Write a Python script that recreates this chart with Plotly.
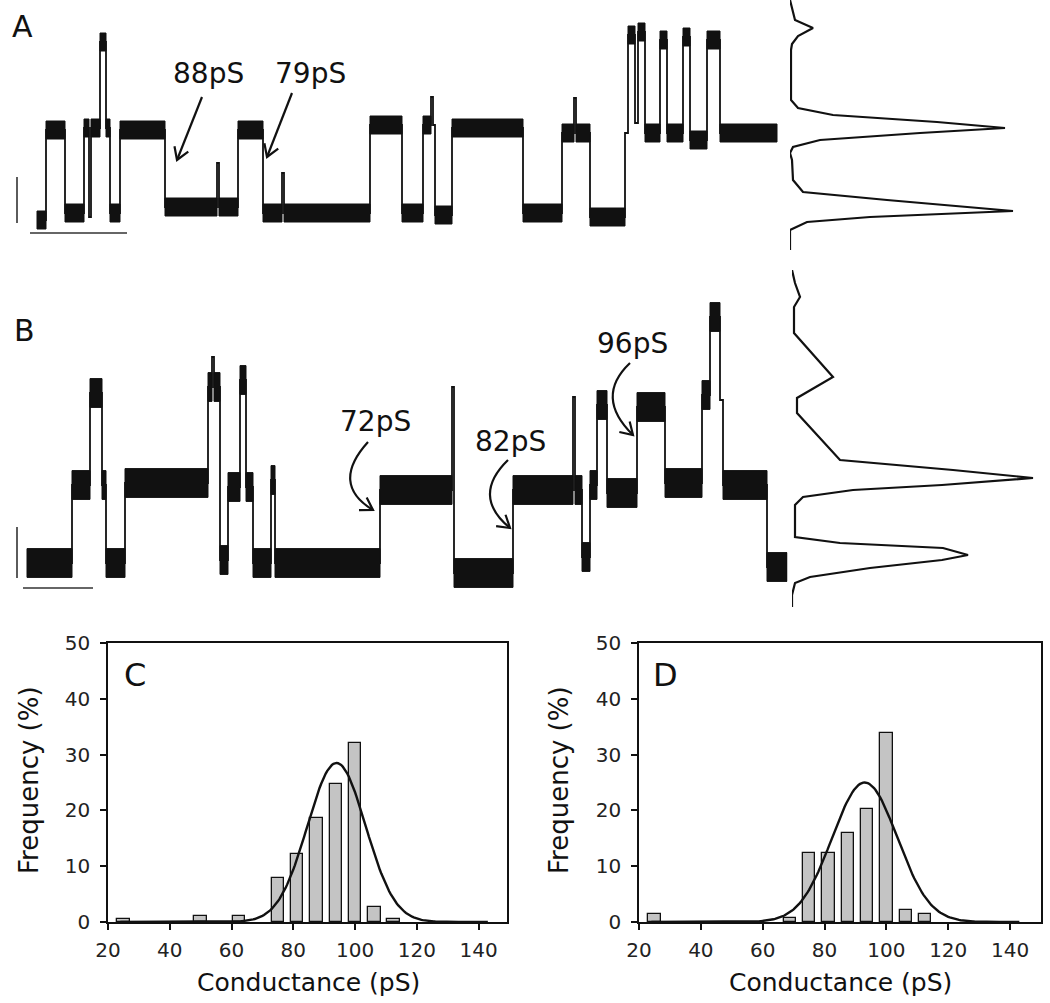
import math
import plotly.graph_objects as go

W, H = 1050, 1003
FONT = "DejaVu Sans, Arial, sans-serif"

# ---------------- Panel A : single-channel trace (step levels, pA-like units) -------------
trace_a_time = [37, 46, 65, 84, 89, 91, 100, 106, 110, 120, 165, 217, 219, 238, 263, 282, 284,
                370, 402, 423, 431, 433, 435, 452, 523, 562, 574, 576, 590, 625, 628, 635, 638,
                645, 660, 667, 683, 690, 707, 720, 777]
trace_a_level = [0.0, 4.5, 0.35, 4.6, 0.15, 4.6, 8.9, 4.6, 0.35, 4.5, 0.65, 2.85, 0.65, 4.5, 0.35,
                 2.35, 0.35, 4.75, 0.35, 4.75, 6.15, 4.75, 0.25, 4.6, 0.35, 4.35, 6.1, 4.35, 0.15,
                 4.35, 9.25, 4.85, 9.4, 4.35, 9.0, 4.35, 9.15, 4.0, 9.0, 4.35]

# amplitude histogram A (current level vs counts)
amp_a_level = [11.0, 10.0, 9.6, 9.2, 8.8, 8.5, 6.0, 5.6, 5.25, 4.9, 4.6, 4.35, 4.0, 3.65, 3.35,
               3.0, 2.0, 1.4, 1.0, 0.65, 0.45, 0.15, -0.1, -0.5, -1.5]
amp_a_count = [0, 5, 23, 8, 2, 1, 1, 8, 43, 147, 215, 130, 30, 3, 0, 2, 3, 13, 97, 180, 223, 80,
               17, 0, 0]

# ---------------- Panel B -----------------------------------------------------------------
trace_b_time = [27, 72, 90, 102, 106, 125, 208, 212, 214, 220, 228, 240, 246, 253, 271, 275, 380,
                452, 454, 513, 573, 575, 582, 590, 597, 607, 637, 665, 702, 710, 720, 723, 767, 787]
trace_b_level = [0.0, 3.9, 8.5, 3.9, 0.0, 4.0, 8.8, 10.3, 8.8, 0.15, 3.8, 9.15, 3.8, 0.0, 4.15,
                 0.0, 3.65, 8.8, -0.5, 3.65, 8.3, 3.65, 0.3, 3.9, 7.9, 3.5, 7.8, 4.0, 8.4, 12.3,
                 8.15, 3.9, -0.2]

amp_b_level = [14.65, 14.0, 13.3, 12.8, 11.5, 9.3, 8.25, 7.5, 5.15, 4.65, 4.25, 3.9, 3.65, 3.3,
               2.9, 2.5, 1.3, 1.0, 0.75, 0.4, 0.15, -0.25, -0.7, -1.0, -1.6, -2.2]
amp_b_count = [0, 3, 8, 2, 2, 41, 5, 5, 48, 161, 241, 150, 61, 11, 3, 3, 3, 48, 151, 176, 150, 78,
               18, 3, 0, 0]

# ---------------- Panels C and D : conductance histograms -----------------------------------
cond_bins_c = [25, 50, 62.5, 75, 81.25, 87.5, 93.75, 100, 106.25, 112.5]
freq_c = [0.5, 1.0, 1.0, 7.9, 12.2, 18.6, 24.7, 32.1, 2.7, 0.5]
cond_bins_d = [25, 68.75, 75, 81.25, 87.5, 93.75, 100, 106.25, 112.5]
freq_d = [1.5, 0.7, 12.3, 12.3, 16.0, 20.3, 33.9, 2.2, 1.5]
fit_c = dict(amp=28.5, mu=94.0, sigma=9.4)
fit_d = dict(amp=25.0, mu=93.0, sigma=10.5)
x_ticks = [20, 40, 60, 80, 100, 120, 140]
y_ticks = [0, 10, 20, 30, 40, 50]

annot_labels = ["88pS", "79pS", "72pS", "82pS", "96pS"]
panel_labels = ["A", "B", "C", "D"]

# ---------------- helpers ----------------
def px(x, y):
    return x / W, 1 - y / H


def step_xy(ts, ls):
    xs, ys = [], []
    for i, lv in enumerate(ls):
        xs += [ts[i], ts[i + 1]]
        ys += [lv, lv]
    return xs, ys


def bands(ts, ls, half):
    xs, ys = [], []
    for i, lv in enumerate(ls):
        t0, t1 = ts[i], ts[i + 1]
        if t1 - t0 < 4:
            continue
        xs += [t0, t1, t1, t0, t0, None]
        ys += [lv - half, lv - half, lv + half, lv + half, lv - half, None]
    return xs, ys


fig = go.Figure()
INK = "#111111"

# trace A
bx, by = bands(trace_a_time, trace_a_level, 0.45)
fig.add_trace(go.Scatter(x=bx, y=by, fill="toself", fillcolor=INK, mode="lines",
                         line=dict(color=INK, width=1), xaxis="x", yaxis="y", hoverinfo="skip"))
sx, sy = step_xy(trace_a_time, trace_a_level)
fig.add_trace(go.Scatter(x=sx, y=sy, mode="lines", line=dict(color=INK, width=1.8),
                         xaxis="x", yaxis="y"))
fig.add_trace(go.Scatter(x=amp_a_count, y=amp_a_level, mode="lines",
                         line=dict(color=INK, width=2.2), xaxis="x2", yaxis="y"))

# trace B
bx, by = bands(trace_b_time, trace_b_level, 0.72)
fig.add_trace(go.Scatter(x=bx, y=by, fill="toself", fillcolor=INK, mode="lines",
                         line=dict(color=INK, width=1), xaxis="x3", yaxis="y2", hoverinfo="skip"))
sx, sy = step_xy(trace_b_time, trace_b_level)
fig.add_trace(go.Scatter(x=sx, y=sy, mode="lines", line=dict(color=INK, width=1.8),
                         xaxis="x3", yaxis="y2"))
fig.add_trace(go.Scatter(x=amp_b_count, y=amp_b_level, mode="lines",
                         line=dict(color=INK, width=2.2), xaxis="x4", yaxis="y2"))


def gauss_curve(fit):
    xs = [24 + 0.5 * i for i in range(int((143 - 24) / 0.5) + 1)]
    ys = [fit["amp"] * math.exp(-((x - fit["mu"]) ** 2) / (2 * fit["sigma"] ** 2)) for x in xs]
    return xs, ys


for bins, freq, fit, xa, ya in [(cond_bins_c, freq_c, fit_c, "x5", "y3"),
                                (cond_bins_d, freq_d, fit_d, "x6", "y4")]:
    fig.add_trace(go.Bar(x=bins, y=freq, width=4, marker=dict(color="#c4c4c4",
                         line=dict(color=INK, width=1.3)), xaxis=xa, yaxis=ya))
    gx, gy = gauss_curve(fit)
    fig.add_trace(go.Scatter(x=gx, y=gy, mode="lines", line=dict(color=INK, width=2.4),
                             xaxis=xa, yaxis=ya))

hidden = dict(visible=False, showgrid=False, zeroline=False, fixedrange=True, automargin=False)
y_a = (1 - 250 / H, 1)
y_b = (1 - 610 / H, 1 - 270 / H)
hist_y = (1 - 922 / H, 1 - 643 / H)

axis_common = dict(showline=True, linecolor=INK, linewidth=1.6, mirror=True, ticks="outside",
                   ticklen=6, tickwidth=1.5, tickcolor=INK, showgrid=False, zeroline=False,
                   automargin=False,
                   tickfont=dict(family=FONT, size=20, color="#222"))

fig.update_layout(
    template="none",
    width=W, height=H, margin=dict(l=0, r=0, t=0, b=0, pad=0), showlegend=False,
    plot_bgcolor="white", paper_bgcolor="white", bargap=0,
    xaxis=dict(domain=[0, 0.75], range=[0, 787.5], **hidden),
    yaxis=dict(domain=list(y_a), range=[-1.5, 11], **hidden),
    xaxis2=dict(domain=[790 / W, 1], range=[0, 260], anchor="y", **hidden),
    xaxis3=dict(domain=[0, 0.75], range=[0, 787.5], anchor="y2", **hidden),
    yaxis2=dict(domain=list(y_b), range=[-2.35, 14.65], anchor="x3", **hidden),
    xaxis4=dict(domain=[792 / W, 1], range=[0, 258], anchor="y2", **hidden),
    xaxis5=dict(domain=[108 / W, 507 / W], range=[20, 149.2], anchor="y3", tickvals=x_ticks,
                ticklabelstandoff=3, **axis_common),
    yaxis3=dict(domain=list(hist_y), range=[0, 50], anchor="x5", tickvals=y_ticks,
                ticklabelstandoff=6, **axis_common),
    xaxis6=dict(domain=[639 / W, 1041 / W], range=[20, 150], anchor="y4", tickvals=x_ticks,
                ticklabelstandoff=3, **axis_common),
    yaxis4=dict(domain=list(hist_y), range=[0, 50], anchor="x6", tickvals=y_ticks,
                ticklabelstandoff=6, **axis_common),
)

# scale bars (data coordinates)
shapes = []
for xr, yr, t0, t1, i0, i1 in [("x", "y", 17, 17, -0.15, 2.15), ("x", "y", 30, 127, -0.65, -0.65),
                               ("x3", "y2", 17, 17, -0.75, 1.8), ("x3", "y2", 23, 93, -1.25, -1.25)]:
    shapes.append(dict(type="line", xref=xr, yref=yr, x0=t0, x1=t1, y0=i0, y1=i1,
                       line=dict(color="#333", width=1.6)))


def arrow_path(p0, c, p1):
    a = px(*p0)
    b = px(*p1)
    if c is None:
        path = f"M{a[0]},{a[1]} L{b[0]},{b[1]}"
        d = (p1[0] - p0[0], p1[1] - p0[1])
    else:
        cc = px(*c)
        path = f"M{a[0]},{a[1]} Q{cc[0]},{cc[1]} {b[0]},{b[1]}"
        d = (p1[0] - c[0], p1[1] - c[1])
    n = math.hypot(*d)
    ux, uy = d[0] / n, d[1] / n
    L = 14
    arms = []
    for ang in (math.radians(32), -math.radians(32)):
        rx = ux * math.cos(ang) - uy * math.sin(ang)
        ry = ux * math.sin(ang) + uy * math.cos(ang)
        arms.append(px(p1[0] - L * rx, p1[1] - L * ry))
    head = f"M{arms[0][0]},{arms[0][1]} L{b[0]},{b[1]} L{arms[1][0]},{arms[1][1]}"
    return [dict(type="path", xref="paper", yref="paper", path=path,
                 line=dict(color=INK, width=2.2)),
            dict(type="path", xref="paper", yref="paper", path=head,
                 line=dict(color=INK, width=2.2))]


shapes += arrow_path((202, 97), None, (177, 160))
shapes += arrow_path((292, 93), None, (267, 157))
shapes += arrow_path((368, 442), (330, 484), (373, 510))
shapes += arrow_path((508, 460), (471, 496), (510, 528))
shapes += arrow_path((630, 363), (594, 397), (633, 435))
fig.update_layout(shapes=shapes)

annots = []
for txt, (x, y) in zip(annot_labels, [(208, 73), (310, 73), (375, 421), (510, 441), (632, 343)]):
    ax_, ay_ = px(x, y)
    annots.append(dict(text=txt, x=ax_, y=ay_, xref="paper", yref="paper", showarrow=False,
                       xanchor="center", yanchor="middle", font=dict(family=FONT, size=28, color=INK)))
for txt, (x, y), size in zip(panel_labels, [(22, 27), (24, 331), (135, 675), (666, 675)],
                             [30, 30, 32, 32]):
    ax_, ay_ = px(x, y)
    annots.append(dict(text=txt, x=ax_, y=ay_, xref="paper", yref="paper", showarrow=False,
                       xanchor="center", yanchor="middle", font=dict(family=FONT, size=size, color=INK)))
for (x, y) in [(308, 982), (840, 982)]:
    ax_, ay_ = px(x, y)
    annots.append(dict(text="Conductance (pS)", x=ax_, y=ay_, xref="paper", yref="paper",
                       showarrow=False, xanchor="center", yanchor="middle",
                       font=dict(family=FONT, size=25, color=INK)))
for (x, y) in [(29, 780), (559, 780)]:
    ax_, ay_ = px(x, y)
    annots.append(dict(text="Frequency (%)", x=ax_, y=ay_, xref="paper", yref="paper",
                       showarrow=False, xanchor="center", yanchor="middle", textangle=-90,
                       font=dict(family=FONT, size=26, color=INK)))
fig.update_layout(annotations=annots)

fig.write_html("out.html", config={"displayModeBar": False},
               post_script="document.body.style.margin='0';document.body.style.overflow='hidden';")
